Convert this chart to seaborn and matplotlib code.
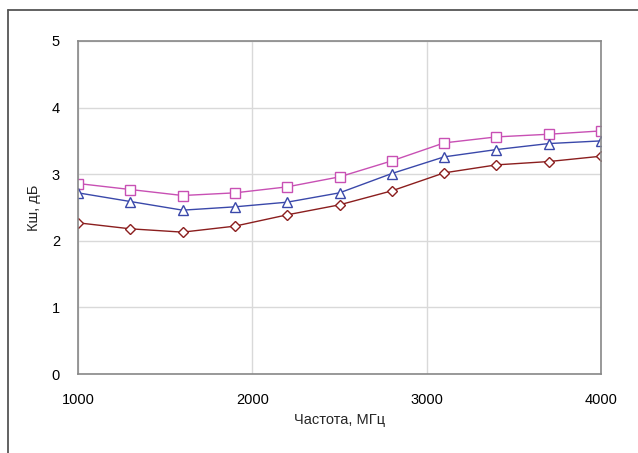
import pandas as pd
import matplotlib
matplotlib.use("Agg")
import matplotlib.pyplot as plt
import seaborn as sns
from matplotlib.lines import Line2D

# data
freq = [1000, 1300, 1600, 1900, 2200, 2500, 2800, 3100, 3400, 3700, 4000]
nf_top = [2.86, 2.77, 2.68, 2.72, 2.81, 2.96, 3.20, 3.47, 3.56, 3.60, 3.65]
nf_mid = [2.72, 2.59, 2.46, 2.51, 2.58, 2.72, 3.01, 3.26, 3.37, 3.46, 3.50]
nf_low = [2.27, 2.18, 2.13, 2.22, 2.39, 2.54, 2.75, 3.02, 3.14, 3.19, 3.27]

sns.set_theme(style="white")
plt.rcParams["font.family"] = ["Liberation Sans", "DejaVu Sans"]

fig = plt.figure(figsize=(6.38, 4.53), dpi=100)
ax = fig.add_axes([78 / 638, 1 - 374 / 453, 523 / 638, 333 / 453])

series = [
    (nf_top, "#c850b4", "s", 7),
    (nf_mid, "#3a48aa", "^", 7.5),
    (nf_low, "#8b1e1e", "D", 5),
]
for vals, color, marker, ms in series:
    df = pd.DataFrame({"f": freq, "nf": vals})
    sns.lineplot(data=df, x="f", y="nf", ax=ax, color=color, linewidth=1.0,
                 marker=marker, markersize=ms, markerfacecolor="white",
                 markeredgecolor=color, markeredgewidth=1.0)

ax.set_xlim(1000, 4000)
ax.set_ylim(0, 5)
ax.set_xticks([1000, 2000, 3000, 4000])
ax.set_yticks([0, 1, 2, 3, 4, 5])
ax.grid(True, color="#d9d9d9", linewidth=1)
ax.tick_params(length=0, labelsize=10.5, colors="black")
ax.tick_params(axis="y", pad=13)
ax.tick_params(axis="x", pad=14)
for sp in ax.spines.values():
    sp.set_color("#888888")
    sp.set_linewidth(1.2)

ax.set_xlabel("Частота, МГц", fontsize=10.5, labelpad=4)
ax.set_ylabel("Кш, дБ", fontsize=10.5, labelpad=8)

# outer chart frame (top and left edges)
fig.add_artist(Line2D([8 / 638, 1], [1 - 10 / 453, 1 - 10 / 453],
                      color="#555555", linewidth=1.3, transform=fig.transFigure))
fig.add_artist(Line2D([8 / 638, 8 / 638], [0, 1 - 10 / 453],
                      color="#555555", linewidth=1.3, transform=fig.transFigure))

fig.savefig("out.png", dpi=100)
